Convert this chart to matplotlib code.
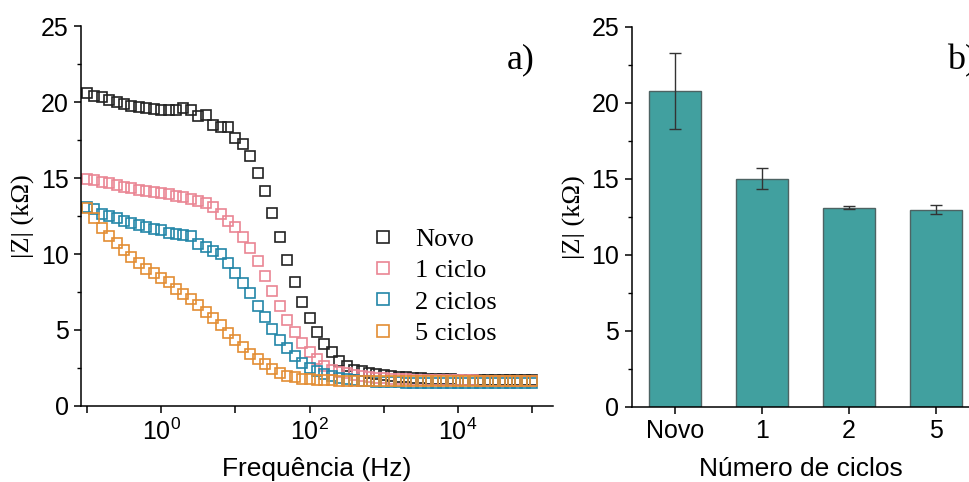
import numpy as np
import matplotlib
matplotlib.use('Agg')
import matplotlib.pyplot as plt
from matplotlib.ticker import FixedLocator, FuncFormatter, MultipleLocator

plt.rcParams['font.family'] = 'Liberation Sans'
plt.rcParams['mathtext.fontset'] = 'custom'
plt.rcParams['mathtext.rm'] = 'Liberation Sans'
plt.rcParams['mathtext.it'] = 'Liberation Sans:italic'

# frequency sweep: 0.1 Hz .. 100 kHz, 10 points per decade
freq = np.logspace(-1, 5, 61)

z_novo = [20.57, 20.40, 20.30, 20.13, 19.98, 19.87, 19.76, 19.70, 19.63, 19.56,
          19.50, 19.47, 19.50, 19.63, 19.45, 19.08, 19.14, 18.50, 18.33, 18.37,
          17.63, 17.24, 16.45, 15.30, 14.16, 12.70, 11.14, 9.60, 8.14, 6.84,
          5.81, 4.85, 4.10, 3.52, 2.98, 2.64, 2.39, 2.28, 2.19, 2.12,
          2.05, 1.99, 1.94, 1.90, 1.86, 1.83, 1.80, 1.78, 1.76, 1.75,
          1.74, 1.73, 1.72, 1.72, 1.71, 1.71, 1.70, 1.70, 1.70, 1.70, 1.70]
z_1ciclo = [14.95, 14.90, 14.76, 14.65, 14.54, 14.43, 14.32, 14.20, 14.14, 14.06,
            13.99, 13.93, 13.84, 13.73, 13.62, 13.52, 13.35, 13.06, 12.60, 12.20,
            11.75, 11.15, 10.37, 9.55, 8.58, 7.57, 6.60, 5.68, 4.86, 4.15,
            3.56, 3.08, 2.65, 2.39, 2.26, 2.14, 2.05, 1.98, 1.92, 1.87,
            1.83, 1.80, 1.77, 1.75, 1.73, 1.72, 1.71, 1.70, 1.69, 1.69,
            1.68, 1.68, 1.68, 1.67, 1.67, 1.67, 1.67, 1.66, 1.66, 1.66, 1.66]
z_2ciclos = [13.11, 12.94, 12.63, 12.50, 12.35, 12.19, 12.01, 11.92, 11.79, 11.66,
             11.58, 11.40, 11.30, 11.23, 11.20, 10.66, 10.48, 10.18, 10.00, 9.40,
             8.77, 8.11, 7.45, 6.60, 5.83, 5.09, 4.36, 3.80, 3.29, 2.85,
             2.52, 2.30, 2.12, 1.98, 1.87, 1.79, 1.72, 1.67, 1.63, 1.60,
             1.58, 1.56, 1.55, 1.54, 1.53, 1.53, 1.52, 1.52, 1.52, 1.51,
             1.51, 1.51, 1.51, 1.51, 1.50, 1.50, 1.50, 1.50, 1.50, 1.50, 1.50]
z_5ciclos = [13.00, 12.34, 11.69, 11.20, 10.70, 10.26, 9.82, 9.43, 8.99, 8.73,
             8.40, 8.14, 7.70, 7.37, 7.04, 6.65, 6.20, 5.77, 5.33, 4.82,
             4.34, 3.90, 3.42, 3.07, 2.74, 2.41, 2.19, 1.99, 1.89, 1.78,
             1.76, 1.71, 1.69, 1.68, 1.67, 1.66, 1.65, 1.65, 1.64, 1.64,
             1.64, 1.63, 1.63, 1.63, 1.63, 1.63, 1.62, 1.62, 1.62, 1.62,
             1.62, 1.62, 1.62, 1.62, 1.62, 1.62, 1.62, 1.62, 1.62, 1.62, 1.62]

series_labels = ['Novo', '1 ciclo', '2 ciclos', '5 ciclos']
series_colors = ['#222222', '#ea8593', '#2386a8', '#e38d34']

bar_labels = ['Novo', '1', '2', '5']
bar_values = [20.8, 15.0, 13.1, 12.97]
bar_errors = [2.5, 0.69, 0.1, 0.32]

fig = plt.figure(figsize=(9.69, 4.82), dpi=100)

# ---- a) impedance modulus vs frequency
ax1 = fig.add_axes([0.0836, 0.1577, 0.4871, 0.7883])
for z, lab, col in zip([z_novo, z_1ciclo, z_2ciclos, z_5ciclos], series_labels, series_colors):
    ax1.plot(freq, z, linestyle='none', marker='s', markersize=7.8,
             markerfacecolor='none', markeredgecolor=col, markeredgewidth=1.2, label=lab)
ax1.set_xscale('log')
ax1.set_xlim(10 ** -1.08, 10 ** 5.28)
ax1.set_ylim(0, 25)
ax1.xaxis.set_major_locator(FixedLocator([10.0 ** e for e in range(-1, 6)]))
ax1.xaxis.set_minor_locator(FixedLocator([]))
ax1.xaxis.set_major_formatter(FuncFormatter(
    lambda v, p: r'$10^{%d}$' % round(np.log10(v)) if round(np.log10(v)) % 2 == 0 else ''))
ax1.yaxis.set_major_locator(MultipleLocator(5))
ax1.yaxis.set_minor_locator(MultipleLocator(2.5))
ax1.set_xlabel('Frequência (Hz)', fontsize=19, labelpad=9)
ax1.set_ylabel('|Z| (kΩ)', fontsize=19, family='Liberation Serif', labelpad=4)
ax1.text(0.962, 0.91, 'a)', transform=ax1.transAxes, fontsize=26,
         family='Liberation Serif', ha='right', va='center')
leg = ax1.legend(loc='upper left', bbox_to_anchor=(0.612, 0.47), frameon=False,
                 prop={'family': 'Liberation Serif', 'size': 19},
                 handlelength=1.0, handletextpad=0.7, labelspacing=0.3, borderpad=0,
                 borderaxespad=0, markerscale=1.05)

# ---- b) bar chart
ax2 = fig.add_axes([0.652, 0.1564, 0.348, 0.7882])
xpos = np.arange(len(bar_labels))
ax2.bar(xpos, bar_values, width=0.6, color='#41a09f', edgecolor='#4d6363', linewidth=1.0,
        yerr=bar_errors, error_kw=dict(ecolor='#333333', elinewidth=1.0, capsize=4, capthick=1.0))
ax2.set_xlim(-0.5, 3.38)
ax2.set_ylim(0, 25)
ax2.set_xticks(xpos)
ax2.set_xticklabels(bar_labels)
ax2.yaxis.set_major_locator(MultipleLocator(5))
ax2.yaxis.set_minor_locator(MultipleLocator(2.5))
ax2.set_xlabel('Número de ciclos', fontsize=19, labelpad=10)
ax2.set_ylabel('|Z| (kΩ)', fontsize=19, family='Liberation Serif', labelpad=4)
ax2.text(0.935, 0.91, 'b)', transform=ax2.transAxes, fontsize=26,
         family='Liberation Serif', ha='left', va='center')

for ax in (ax1, ax2):
    for s in ('top', 'right'):
        ax.spines[s].set_visible(False)
    for s in ('left', 'bottom'):
        ax.spines[s].set_linewidth(1.1)
    ax.tick_params(axis='both', which='major', direction='out', length=5, width=1.1,
                   labelsize=18, pad=4)
    ax.tick_params(axis='both', which='minor', direction='out', length=3, width=1.0)

fig.savefig('out.png', dpi=100)
